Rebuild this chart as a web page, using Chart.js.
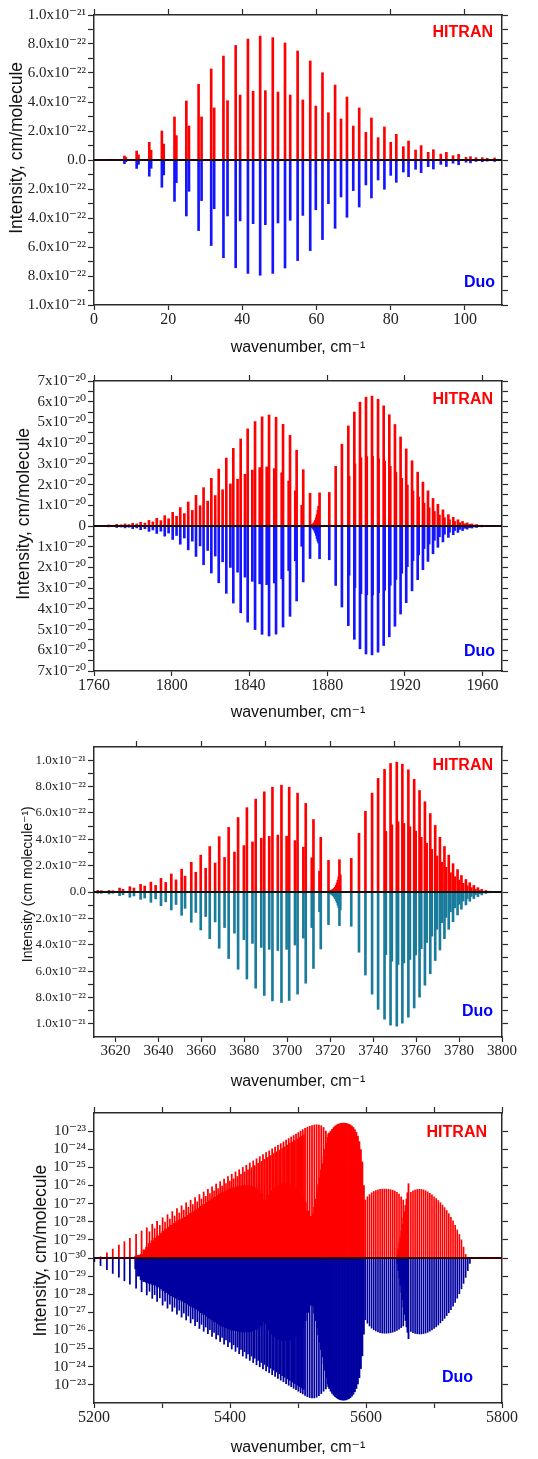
<!DOCTYPE html>
<html>
<head>
<meta charset="utf-8">
<script src="https://cdn.jsdelivr.net/npm/chart.js@4.4.1/dist/chart.umd.min.js"></script>
<style>
    html, body { margin: 0; padding: 0; background: #fff; width: 538px; height: 1459px; overflow: hidden; }
    .panel { position: absolute; left: 0; width: 538px; height: 366px; }
</style>
</head>
<body>
<div class="panel" style="top:0"><canvas id="chart1" width="538" height="366"></canvas></div>
<div class="panel" style="top:366px"><canvas id="chart2" width="538" height="366"></canvas></div>
<div class="panel" style="top:732px"><canvas id="chart3" width="538" height="366"></canvas></div>
<div class="panel" style="top:1098px"><canvas id="chart4" width="538" height="366"></canvas></div>
<script>
// ---------- Panel 1: 0-110 cm-1, intensities in units of 1e-22 cm/molecule ----------
const p1X = [4.7, 8.2, 8.6, 11.5, 12.0, 14.9, 15.4, 18.3, 18.8, 21.7, 22.2, 24.9, 25.6, 28.2, 29.0, 31.6, 32.4, 34.9, 36.0, 38.2, 39.4,
    41.5, 42.9, 44.8, 46.2, 48.2, 49.6, 51.5, 52.9, 54.9, 56.3, 58.3, 59.8, 61.6, 63.2, 65.0, 66.6, 68.2, 69.9, 71.5, 73.3,
    74.8, 76.6, 78.3, 80.0, 81.5, 83.4, 84.8, 86.7, 88.2, 90.1, 91.5, 93.5, 95.0, 96.8, 98.3, 100.3, 101.5, 103.0, 104.7, 106.0, 108.0];
const p1Hitran = [0.05, 0.28, 0.18, 0.62, 0.35, 1.22, 0.67, 2.0, 1.1, 2.97, 1.68, 4.07, 2.34, 5.22, 2.97, 6.28, 3.59, 7.17, 4.09, 7.9, 4.48,
    8.34, 4.74, 8.55, 4.78, 8.44, 4.69, 8.07, 4.48, 7.52, 4.14, 6.83, 3.72, 6.02, 3.26, 5.17, 2.83, 4.34, 2.34, 3.59, 1.91,
    2.9, 1.54, 2.28, 1.22, 1.77, 0.92, 1.31, 0.69, 0.99, 0.53, 0.71, 0.41, 0.53, 0.3, 0.39, 0.18, 0.23, 0.16, 0.16, 0.12, 0.14];
const p1Duo = [0.03, 0.25, 0.12, 0.58, 0.3, 1.12, 0.57, 1.88, 1.03, 2.85, 1.56, 3.86, 2.16, 4.87, 2.8, 5.9, 3.36, 6.74, 3.86, 7.43, 4.2,
    7.82, 4.39, 7.95, 4.46, 7.82, 4.34, 7.45, 4.16, 6.94, 3.82, 6.25, 3.43, 5.49, 3.01, 4.71, 2.55, 3.95, 2.11, 3.24, 1.72,
    2.62, 1.38, 2.02, 1.06, 1.54, 0.83, 1.15, 0.64, 0.87, 0.46, 0.62, 0.3, 0.45, 0.22, 0.33, 0.15, 0.2, 0.1, 0.12, 0.08, 0.1];
const p1XTicks = [0, 20, 40, 60, 80, 100];
const p1XLabels = ['0', '20', '40', '60', '80', '100'];
const p1YTicks = [-10, -9, -8, -7, -6, -5, -4, -3, -2, -1, 0, 1, 2, 3, 4, 5, 6, 7, 8, 9, 10];
const p1YLabels = ['1.0x10⁻²¹', '', '8.0x10⁻²²', '', '6.0x10⁻²²', '', '4.0x10⁻²²', '', '2.0x10⁻²²', '', '0.0',
    '', '2.0x10⁻²²', '', '4.0x10⁻²²', '', '6.0x10⁻²²', '', '8.0x10⁻²²', '', '1.0x10⁻²¹'];

// ---------- Panel 2: 1760-1970 cm-1, units of 1e-20 ----------
const p2X = [
    // P branch
    1767.5, 1771.7, 1774.0, 1776.0, 1778.0, 1779.9, 1782.0, 1784.0, 1786.2, 1788.3, 1790.3, 1792.3, 1794.4, 1796.4, 1798.4,
    1800.5, 1802.5, 1804.4, 1806.5, 1808.5, 1810.6, 1812.5, 1814.6, 1816.4, 1818.5, 1820.4, 1822.4, 1824.2, 1826.2, 1828.1,
    1830.2, 1831.7, 1833.9, 1835.5, 1837.7, 1839.1, 1841.5, 1842.9, 1845.3, 1846.5, 1848.9, 1850.1, 1852.8, 1853.7, 1856.6,
    1857.3, 1860.2, 1860.9, 1863.6, 1864.3, 1866.9, 1867.7, 1871.2,
    // Q branch
    1872.0, 1872.4, 1872.8, 1873.2, 1873.6, 1874.0, 1874.4, 1874.8, 1875.2, 1875.6, 1876.1,
    // R branch
    1881.1, 1884.4, 1887.6, 1890.9, 1891.3, 1894.0, 1894.3, 1896.9, 1897.4, 1900.0, 1900.4, 1903.1, 1903.4, 1906.2, 1906.5,
    1909.1, 1909.6, 1912.0, 1912.5, 1914.9, 1915.4, 1917.8, 1918.4, 1920.7, 1921.3, 1923.7, 1924.2, 1926.6, 1927.1, 1929.3,
    1929.9, 1931.9, 1932.5, 1934.5, 1935.2, 1937.0, 1937.8, 1939.6, 1940.4, 1942.4, 1943.0, 1944.9, 1945.6, 1947.3, 1948.2,
    1949.7, 1950.8, 1952.1, 1953.3, 1954.5, 1955.9, 1957.0, 1959.5, 1962.0];
const p2Hitran = [
    0.05, 0.08, 0.06, 0.10, 0.07, 0.13, 0.10, 0.18, 0.14, 0.27, 0.20, 0.37, 0.26, 0.50, 0.35,
    0.66, 0.47, 0.89, 0.60, 1.16, 0.75, 1.48, 0.98, 1.85, 1.20, 2.30, 1.47, 2.75, 1.75, 3.28,
    2.03, 3.75, 2.26, 4.20, 2.50, 4.69, 2.70, 5.04, 2.82, 5.27, 2.85, 5.36, 2.77, 5.25, 2.57,
    4.91, 2.17, 4.38, 1.70, 3.66, 1.00, 2.72, 1.58,
    0.05, 0.07, 0.10, 0.14, 0.20, 0.28, 0.40, 0.55, 0.75, 0.95, 1.60,
    1.62, 2.88, 3.95, 4.83, 2.40, 5.50, 3.00, 5.98, 3.30, 6.22, 3.35, 6.27, 3.36, 6.12, 3.25,
    5.80, 3.13, 5.37, 2.88, 4.90, 2.60, 4.30, 2.30, 3.72, 1.98, 3.15, 1.69, 2.60, 1.40, 2.12,
    1.10, 1.70, 0.88, 1.33, 0.70, 1.05, 0.53, 0.78, 0.40, 0.55, 0.30, 0.42, 0.22, 0.30, 0.16,
    0.22, 0.11, 0.15, 0.08, 0.10, 0.05, 0.07, 0.04, 0.02];
const p2Duo = [
    0.04, 0.07, 0.05, 0.09, 0.06, 0.13, 0.09, 0.18, 0.13, 0.26, 0.19, 0.36, 0.25, 0.49, 0.34,
    0.65, 0.46, 0.88, 0.58, 1.15, 0.73, 1.47, 0.96, 1.87, 1.18, 2.27, 1.45, 2.74, 1.73, 3.25,
    2.00, 3.72, 2.23, 4.19, 2.47, 4.64, 2.67, 5.00, 2.79, 5.23, 2.83, 5.31, 2.75, 5.22, 2.55,
    4.88, 2.15, 4.36, 1.68, 3.62, 0.98, 2.70, 1.57,
    0.05, 0.08, 0.12, 0.17, 0.24, 0.33, 0.45, 0.60, 0.72, 0.82, 1.58,
    1.63, 2.87, 3.91, 4.81, 2.38, 5.47, 2.97, 5.93, 3.27, 6.18, 3.32, 6.22, 3.33, 6.09, 3.22,
    5.77, 3.10, 5.35, 2.86, 4.84, 2.58, 4.25, 2.28, 3.70, 1.96, 3.13, 1.67, 2.59, 1.39, 2.11,
    1.09, 1.71, 0.87, 1.34, 0.69, 1.03, 0.52, 0.77, 0.40, 0.55, 0.30, 0.42, 0.22, 0.31, 0.16,
    0.22, 0.11, 0.15, 0.08, 0.10, 0.05, 0.07, 0.04, 0.02];
const p2XTicks = [1760, 1800, 1840, 1880, 1920, 1960];
const p2XLabels = ['1760', '1800', '1840', '1880', '1920', '1960'];
const p2YTicks = [-7, -6.5, -6, -5.5, -5, -4.5, -4, -3.5, -3, -2.5, -2, -1.5, -1, -0.5, 0,
    0.5, 1, 1.5, 2, 2.5, 3, 3.5, 4, 4.5, 5, 5.5, 6, 6.5, 7];
const p2YLabels = ['7x10⁻²⁰', '', '6x10⁻²⁰', '', '5x10⁻²⁰', '', '4x10⁻²⁰', '', '3x10⁻²⁰', '', '2x10⁻²⁰', '', '1x10⁻²⁰', '', '0',
    '', '1x10⁻²⁰', '', '2x10⁻²⁰', '', '3x10⁻²⁰', '', '4x10⁻²⁰', '', '5x10⁻²⁰', '', '6x10⁻²⁰', '', '7x10⁻²⁰'];

// ---------- Panel 3: 3610-3800 cm-1, units of 1e-22 ----------
const p3X = [
    3611.8, 3613.4, 3617.0, 3618.8, 3621.9, 3623.5, 3626.7, 3628.6, 3631.7, 3633.6, 3636.5, 3638.7, 3641.2, 3643.4,
    3646.0, 3648.2, 3650.8, 3652.4, 3655.3, 3657.4, 3659.7, 3662.0, 3663.9, 3666.4, 3668.3, 3670.8, 3672.7, 3675.4,
    3677.1, 3679.8, 3681.2, 3683.8, 3685.3, 3687.9, 3689.3, 3691.6, 3693.1, 3695.6, 3697.3, 3699.7, 3700.9, 3703.6,
    3704.8, 3707.5, 3708.6, 3711.4, 3712.2, 3715.0, 3715.6, 3719.2,
    3719.8, 3720.3, 3720.8, 3721.3, 3721.8, 3722.3, 3722.8, 3723.2, 3723.6, 3724.0, 3724.3, 3724.7,
    3729.8, 3733.4, 3736.4, 3739.5, 3742.3, 3745.3, 3745.9, 3748.1, 3748.7, 3751.0, 3751.6, 3753.6, 3754.3, 3756.4,
    3757.1, 3759.1, 3759.8, 3761.6, 3762.4, 3764.1, 3764.9, 3766.6, 3767.3, 3768.9, 3769.7, 3771.1, 3771.9, 3773.2,
    3773.9, 3775.2, 3776.0, 3777.2, 3778.0, 3779.3, 3779.9, 3781.1, 3781.9, 3783.2, 3783.8, 3785.0, 3785.7, 3786.9,
    3787.6, 3788.8, 3789.5, 3790.6, 3792.5, 3794.4];
const p3Hitran = [
    0.12, 0.10, 0.12, 0.10, 0.30, 0.20, 0.40, 0.30, 0.58, 0.45, 0.75, 0.50, 1.03, 0.73,
    1.37, 0.92, 1.73, 1.20, 2.25, 1.50, 2.80, 1.80, 3.45, 2.20, 4.20, 2.62, 4.90, 3.03,
    5.65, 3.52, 6.40, 3.80, 7.05, 4.08, 7.60, 4.22, 7.95, 4.32, 8.10, 4.23, 7.95, 3.90,
    7.50, 3.40, 6.72, 2.60, 5.50, 1.58, 4.15, 2.40,
    0.10, 0.12, 0.15, 0.20, 0.27, 0.36, 0.50, 0.68, 0.90, 1.15, 2.45, 1.30,
    2.55, 4.45, 6.12, 7.50, 8.62, 9.30, 4.60, 9.75, 5.10, 9.85, 5.33, 9.70, 5.20, 9.27,
    4.95, 8.55, 4.62, 7.70, 4.15, 6.85, 3.70, 5.95, 3.23, 5.05, 2.73, 4.15, 2.25, 3.45,
    1.87, 2.80, 1.46, 2.15, 1.16, 1.70, 0.90, 1.25, 0.66, 0.95, 0.48, 0.70, 0.33, 0.50,
    0.20, 0.33, 0.12, 0.20, 0.12, 0.06];
const p3Duo = [
    0.10, 0.10, 0.15, 0.10, 0.28, 0.20, 0.40, 0.30, 0.56, 0.46, 0.78, 0.52, 1.04, 0.75,
    1.36, 0.95, 1.77, 1.24, 2.30, 1.55, 2.88, 1.86, 3.54, 2.27, 4.27, 2.70, 5.05, 3.12,
    5.86, 3.62, 6.60, 3.90, 7.30, 4.20, 7.85, 4.35, 8.26, 4.44, 8.38, 4.35, 8.23, 4.02,
    7.75, 3.50, 6.92, 2.70, 5.80, 1.50, 4.32, 2.47,
    0.10, 0.15, 0.20, 0.28, 0.38, 0.50, 0.65, 0.80, 1.00, 1.20, 2.55, 1.35,
    2.60, 4.57, 6.30, 7.75, 8.90, 9.65, 4.75, 10.10, 5.25, 10.18, 5.50, 9.95, 5.38, 9.50,
    5.12, 8.80, 4.78, 7.98, 4.30, 7.07, 3.83, 6.20, 3.35, 5.20, 2.83, 4.40, 2.33, 3.54,
    1.93, 2.83, 1.50, 2.25, 1.20, 1.74, 0.93, 1.31, 0.68, 0.98, 0.50, 0.70, 0.34, 0.50,
    0.21, 0.35, 0.12, 0.22, 0.12, 0.06];
const p3XTicks = [3620, 3640, 3660, 3680, 3700, 3720, 3740, 3760, 3780, 3800];
const p3XLabels = ['3620', '3640', '3660', '3680', '3700', '3720', '3740', '3760', '3780', '3800'];
const p3TopTicks = [3630, 3660, 3690, 3720, 3750, 3780];
const p3YTicks = [-10, -9, -8, -7, -6, -5, -4, -3, -2, -1, 0, 1, 2, 3, 4, 5, 6, 7, 8, 9, 10];
const p3YLabels = ['1.0x10⁻²¹', '', '8.0x10⁻²²', '', '6.0x10⁻²²', '', '4.0x10⁻²²', '', '2.0x10⁻²²', '', '0.0',
    '', '2.0x10⁻²²', '', '4.0x10⁻²²', '', '6.0x10⁻²²', '', '8.0x10⁻²²', '', '1.0x10⁻²¹'];

// ---------- Panel 4: 5200-5800 cm-1, log10 of intensity (cm/molecule) ----------
// strong branch
const p4AX = [5200.5, 5209.6, 5219.0, 5227.6, 5236.6, 5244.7, 5252.8, 5261.9, 5270.0, 5277.6, 5285.7, 5292.8, 5300.9, 5308.1,
    5315.1, 5322.0, 5328.8, 5335.5, 5342.1, 5348.6, 5355.0, 5361.3, 5367.5, 5373.6, 5379.6, 5385.5, 5391.3, 5397.0,
    5402.6, 5408.1, 5413.5, 5418.8, 5424.0, 5429.1, 5434.1, 5439.0, 5443.8, 5448.5, 5453.1, 5457.6, 5462.0, 5466.3,
    5470.5, 5474.6, 5478.6, 5482.5, 5486.3, 5490.0, 5493.6, 5497.1, 5500.5, 5503.8, 5507.0, 5510.4, 5513.8, 5517.2,
    5520.6, 5524.0, 5527.4, 5530.8, 5534.2, 5537.6, 5541.0, 5544.4];
const p4HitranA = [-31, -29.93, -29.71, -29.51, -29.29, -29.10, -28.91, -28.70, -28.51, -28.33, -28.14, -27.97, -27.78, -27.61,
    -27.44, -27.28, -27.12, -26.96, -26.81, -26.66, -26.50, -26.36, -26.21, -26.07, -25.92, -25.79, -25.65, -25.51,
    -25.38, -25.25, -25.13, -25.00, -24.88, -24.76, -24.64, -24.53, -24.41, -24.30, -24.19, -24.09, -23.98, -23.88,
    -23.78, -23.69, -23.59, -23.50, -23.41, -23.32, -23.24, -23.16, -23.08, -23.00, -22.92, -22.84, -22.78, -22.73,
    -22.69, -22.66, -22.65, -22.66, -22.70, -22.80, -23.00, -23.15];
const p4DuoA = [-29.80, -29.58, -29.36, -29.15, -28.94, -28.74, -28.55, -28.33, -28.14, -27.96, -27.77, -27.60, -27.40, -27.23,
    -27.06, -26.90, -26.74, -26.58, -26.42, -26.27, -26.11, -25.96, -25.82, -25.67, -25.53, -25.39, -25.25, -25.11,
    -24.98, -24.85, -24.72, -24.59, -24.47, -24.35, -24.23, -24.11, -24.00, -23.88, -23.77, -23.67, -23.56, -23.46,
    -23.36, -23.26, -23.17, -23.07, -22.98, -22.90, -22.81, -22.73, -22.65, -22.57, -22.50, -22.42, -22.35, -22.30,
    -22.28, -22.28, -22.32, -22.40, -22.52, -22.65, -22.78, -22.90];
// companion lines between the strong ones
const p4SX = [5281.6, 5289.2, 5296.8, 5304.5, 5311.6, 5318.5, 5325.4, 5332.1, 5338.8, 5345.3, 5351.8, 5358.1, 5364.4, 5370.5,
    5376.6, 5382.5, 5388.4, 5394.1, 5399.8, 5405.3, 5410.8, 5416.1, 5421.4, 5426.5, 5431.6, 5436.5, 5441.4, 5446.1,
    5450.8, 5455.3, 5459.8, 5464.1, 5468.4, 5472.5, 5476.6, 5480.5, 5484.4, 5488.1, 5491.8, 5495.3, 5498.8, 5502.1,
    5505.4, 5508.7];
const p4HitranS = [-28.55, -28.38, -28.20, -28.02, -27.85, -27.68, -27.52, -27.36, -27.20, -27.05, -26.90, -26.75, -26.60, -26.45,
    -26.30, -26.17, -26.03, -25.90, -25.76, -25.63, -25.50, -25.38, -25.25, -25.13, -25.01, -24.90, -24.78, -24.67,
    -24.56, -24.45, -24.35, -24.24, -24.14, -24.05, -23.95, -23.86, -23.77, -23.68, -23.60, -23.52, -23.44, -23.36,
    -23.28, -23.20];
const p4DuoS = [-28.16, -27.98, -27.80, -27.62, -27.45, -27.28, -27.12, -26.96, -26.80, -26.64, -26.49, -26.34, -26.19, -26.04,
    -25.90, -25.76, -25.62, -25.48, -25.35, -25.21, -25.08, -24.96, -24.83, -24.71, -24.59, -24.47, -24.35, -24.24,
    -24.13, -24.02, -23.92, -23.81, -23.71, -23.61, -23.51, -23.42, -23.33, -23.24, -23.15, -23.07, -22.98, -22.91,
    -22.83, -22.75];
// weak dense branch (two humps)
const p4BX = [5262, 5266, 5270, 5274, 5278, 5282, 5286, 5290, 5294, 5298, 5302, 5306, 5310, 5314, 5318, 5322, 5326, 5330,
    5334, 5338, 5342, 5346, 5350, 5354, 5358, 5362, 5366, 5370, 5374, 5378, 5382, 5386, 5390, 5394, 5398, 5402, 5406,
    5410, 5414, 5418, 5422, 5426, 5430, 5434, 5438, 5442, 5446, 5450, 5454, 5458, 5462, 5466, 5470, 5474, 5478, 5482,
    5486, 5490, 5494, 5498, 5502, 5506, 5510, 5514, 5518];
const p4HitranB = [-29.90, -29.85, -29.80, -29.55, -29.40, -29.20, -29.05, -28.90, -28.78, -28.65, -28.52, -28.40, -28.30,
    -28.20, -28.10, -28.00, -27.90, -27.82, -27.75, -27.65, -27.55, -27.45, -27.35, -27.25, -27.15, -27.05, -26.95,
    -26.85, -26.75, -26.65, -26.55, -26.45, -26.37, -26.30, -26.23, -26.17, -26.12, -26.08, -26.05, -26.02, -26.00,
    -26.00, -26.02, -26.06, -26.13, -26.25, -26.45, -26.80, -26.90, -26.55, -26.30, -26.14, -26.03, -25.95, -25.91,
    -25.90, -25.91, -25.95, -26.02, -26.14, -26.32, -26.58, -26.95, -27.40, -27.70];
const p4DuoB = [-29.40, -29.00, -28.80, -28.70, -28.65, -28.60, -28.55, -28.50, -28.40, -28.30, -28.20, -28.10, -28.00,
    -27.92, -27.85, -27.78, -27.70, -27.62, -27.54, -27.45, -27.36, -27.27, -27.18, -27.08, -26.98, -26.88, -26.78,
    -26.68, -26.58, -26.48, -26.38, -26.30, -26.22, -26.15, -26.10, -26.05, -26.01, -25.98, -25.95, -25.93, -25.92,
    -25.92, -25.94, -25.98, -26.05, -26.15, -26.30, -26.50, -26.40, -26.05, -25.80, -25.65, -25.55, -25.48, -25.45,
    -25.44, -25.46, -25.50, -25.58, -25.70, -25.88, -26.15, -26.55, -27.00, -27.40];
// band head rising into the second strong group
const p4RampX = [5512, 5514, 5516, 5518, 5520, 5522, 5524, 5526, 5528, 5530, 5532, 5534, 5536, 5538, 5540, 5542, 5544];
const p4HitranRamp = [-29.60, -29.15, -28.80, -28.35, -28.00, -27.55, -27.20, -26.75, -26.40, -25.95, -25.60, -25.15, -24.80,
    -24.40, -24.00, -23.65, -23.35];
const p4DuoRamp = [-29.40, -29.00, -28.55, -28.15, -27.75, -27.35, -26.95, -26.55, -26.15, -25.75, -25.35, -24.95, -24.55,
    -24.15, -23.80, -23.40, -23.05];
const p4G2X = [5546.0, 5548.2, 5550.4, 5552.6, 5554.8, 5557.0, 5559.2, 5561.4, 5563.6, 5565.8, 5568.0, 5570.2, 5572.4, 5574.6,
    5576.8, 5579.0, 5581.2, 5583.4, 5585.6, 5587.8, 5590.0, 5592.2, 5594.4, 5596.6];
const p4HitranG2 = [-23.10, -23.00, -22.90, -22.80, -22.72, -22.66, -22.62, -22.59, -22.57, -22.56, -22.56, -22.57, -22.59,
    -22.62, -22.66, -22.72, -22.80, -22.92, -23.07, -23.28, -23.58, -24.02, -24.70, -26.00];
const p4DuoG2 = [-22.80, -22.65, -22.53, -22.43, -22.35, -22.28, -22.23, -22.19, -22.17, -22.16, -22.16, -22.17, -22.20,
    -22.24, -22.30, -22.38, -22.48, -22.62, -22.80, -23.05, -23.40, -23.90, -24.60, -25.80];
// weak bands above 5600
const p4CX = [5599.0, 5602.1, 5605.2, 5608.3, 5611.4, 5614.5, 5617.6, 5620.7, 5623.8, 5626.9, 5630.0, 5633.1, 5636.2, 5639.3,
    5642.4, 5645.5, 5648.6, 5651.7, 5654.8];
const p4HitranC = [-26.80, -26.62, -26.50, -26.40, -26.33, -26.28, -26.24, -26.21, -26.20, -26.20, -26.20, -26.21, -26.23,
    -26.26, -26.31, -26.38, -26.48, -26.62, -26.80];
const p4DuoC = [-26.60, -26.40, -26.25, -26.13, -26.04, -25.97, -25.92, -25.88, -25.86, -25.85, -25.85, -25.86, -25.88,
    -25.91, -25.95, -26.00, -26.07, -26.15, -26.25];
const p4SpikeX = [5646.0, 5647.5, 5649.0, 5650.5, 5652.0, 5653.5, 5655.0, 5656.5, 5658.0, 5659.5, 5661.0, 5662.5];
const p4HitranSpike = [-29.80, -29.50, -29.20, -28.85, -28.50, -28.15, -27.80, -27.45, -27.10, -26.75, -26.40, -25.90];
const p4DuoSpike = [-29.70, -29.30, -28.90, -28.50, -28.10, -27.70, -27.30, -26.90, -26.55, -26.20, -25.90, -25.55];
const p4DX = [5666.0, 5669.1, 5672.2, 5675.3, 5678.4, 5681.5, 5684.6, 5687.7, 5690.8, 5693.9, 5697.0, 5700.1, 5703.2, 5706.3,
    5709.4, 5712.5, 5715.6, 5718.7, 5721.8, 5724.9, 5728.0, 5731.1, 5734.2, 5737.3, 5740.4, 5743.5, 5746.6, 5749.7, 5752.8];
const p4HitranD = [-26.38, -26.30, -26.25, -26.22, -26.21, -26.21, -26.24, -26.29, -26.35, -26.43, -26.52, -26.62, -26.72,
    -26.83, -26.95, -27.08, -27.22, -27.38, -27.55, -27.75, -27.95, -28.20, -28.45, -28.70, -29.00, -29.40, -29.80, -31, -31];
const p4DuoD = [-25.95, -25.88, -25.84, -25.82, -25.81, -25.81, -25.83, -25.86, -25.90, -25.96, -26.03, -26.11, -26.20,
    -26.30, -26.42, -26.54, -26.67, -26.82, -26.98, -27.15, -27.34, -27.55, -27.78, -28.03, -28.30, -28.60, -28.93, -29.30, -29.70];
const p4Floor = -30;
const p4XTicks = [5200, 5300, 5400, 5500, 5600, 5700, 5800];
const p4XLabels = ['5200', '', '5400', '', '5600', '', '5800'];
const p4YTicks = [-7, -6, -5, -4, -3, -2, -1, 0, 1, 2, 3, 4, 5, 6, 7];
const p4YLabels = ['10⁻²³', '10⁻²⁴', '10⁻²⁵', '10⁻²⁶', '10⁻²⁷', '10⁻²⁸', '10⁻²⁹', '10⁻³⁰',
    '10⁻²⁹', '10⁻²⁸', '10⁻²⁷', '10⁻²⁶', '10⁻²⁵', '10⁻²⁴', '10⁻²³'];

const SERIF = "'Liberation Serif', 'DejaVu Serif', serif";
const SANS = "'Liberation Sans', 'DejaVu Sans', Arial, sans-serif";
const RED = '#ff0000';
const AXIS = '#2a2a2a';

function sticks(xs, ys, sign) {
    const n = Math.min(xs.length, ys.length);
    const out = [];
    for (let i = 0; i < n; i++) out.push({x: xs[i], y: sign * ys[i]});
    return out;
}

function logSticks(xs, logs, sign) {
    const n = Math.min(xs.length, logs.length);
    const out = [];
    for (let i = 0; i < n; i++) out.push({x: xs[i], y: sign * Math.max(0, logs[i] - p4Floor)});
    return out;
}

// HITRAN / Duo tags inside the frame
const cornerLabels = {
    id: 'cornerLabels',
    afterDatasetsDraw(chart, args, opts) {
        const ctx = chart.ctx;
        const area = chart.chartArea;
        (opts.items || []).forEach(function(it) {
            ctx.save();
            ctx.font = 'bold 16px ' + SANS;
            ctx.fillStyle = it.color;
            ctx.textAlign = 'right';
            ctx.textBaseline = 'middle';
            const y = it.top !== undefined ? area.top + it.top : area.bottom - it.bottom;
            ctx.fillText(it.text, area.right - it.right, y);
            ctx.restore();
        });
    }
};

function setTicks(values) {
    return function(scale) { scale.ticks = values.map(function(v) { return {value: v}; }); };
}

function makeChart(id, cfg) {
    const datasets = cfg.series.map(function(s) {
        return {
            type: 'bar',
            data: s.data,
            backgroundColor: s.color,
            borderWidth: 0,
            barThickness: s.w,
            grouped: false,
            xAxisID: 'x',
            yAxisID: 'y',
            order: 1
        };
    });
    // baseline drawn over the sticks
    datasets.push({
        type: 'line',
        data: [{x: cfg.xMin, y: 0}, {x: cfg.xMax, y: 0}],
        borderColor: cfg.zeroColor,
        borderWidth: 2,
        pointRadius: 0,
        xAxisID: 'x',
        yAxisID: 'y',
        order: 0
    });

    const grid = {drawOnChartArea: false, tickLength: 6, color: AXIS, tickColor: AXIS, tickWidth: 1.2, offset: false};
    const border = {color: AXIS, width: 1.5};

    return new Chart(document.getElementById(id), {
        type: 'bar',
        data: {datasets: datasets},
        options: {
            responsive: false,
            animation: false,
            layout: {padding: 0},
            plugins: {
                legend: {display: false},
                tooltip: {enabled: false},
                cornerLabels: {items: cfg.tags}
            },
            scales: {
                x: {
                    type: 'linear', position: 'bottom', min: cfg.xMin, max: cfg.xMax, offset: false,
                    afterBuildTicks: setTicks(cfg.xTicks),
                    afterFit: function(s) { s.height = 61; },
                    ticks: {
                        autoSkip: false, maxRotation: 0, padding: 0, color: '#222',
                        font: {family: SERIF, size: cfg.xTickSize || 16},
                        callback: function(v, i) { return cfg.xLabels[i]; }
                    },
                    grid: Object.assign({}, grid, {tickLength: 5}),
                    border: border,
                    title: {
                        display: true, text: 'wavenumber, cm⁻¹', color: '#111',
                        font: {family: SANS, size: 16}, padding: {top: 0, bottom: cfg.xTitlePad}
                    }
                },
                xTop: {
                    type: 'linear', position: 'top', min: cfg.xMin, max: cfg.xMax, offset: false,
                    afterBuildTicks: setTicks(cfg.topTicks || cfg.xTicks),
                    afterFit: function(s) { s.height = 15; },
                    ticks: {display: false},
                    grid: grid,
                    border: border
                },
                y: {
                    type: 'linear', position: 'left', min: cfg.yMin, max: cfg.yMax,
                    afterBuildTicks: setTicks(cfg.yTicks),
                    afterFit: function(s) { s.width = 94; },
                    ticks: {
                        autoSkip: false, padding: 2, color: '#222',
                        font: {family: SERIF, size: cfg.yTickSize || 15},
                        callback: function(v, i) { return cfg.yLabels[i]; }
                    },
                    grid: grid,
                    border: border,
                    title: {
                        display: true, text: cfg.yTitle, color: '#111',
                        font: {family: SANS, size: cfg.yTitleSize}, padding: {top: cfg.yTitlePad, bottom: 0}
                    }
                },
                yRight: {
                    type: 'linear', position: 'right', min: cfg.yMin, max: cfg.yMax,
                    afterBuildTicks: setTicks(cfg.yTicks),
                    afterFit: function(s) { s.width = 36; },
                    ticks: {display: false},
                    grid: grid,
                    border: border
                }
            }
        },
        plugins: [cornerLabels]
    });
}

// Panel 1
makeChart('chart1', {
    xMin: 0, xMax: 110, yMin: -10, yMax: 10,
    xTicks: p1XTicks, xLabels: p1XLabels, yTicks: p1YTicks, yLabels: p1YLabels,
    yTitle: '     Intensity, cm/molecule', yTitleSize: 17.5, yTitlePad: 6.5, xTitlePad: 8.4,
    zeroColor: '#1a0808',
    series: [
        {data: sticks(p1X, p1Hitran, 1), color: RED, w: 2},
        {data: sticks(p1X, p1Duo, -1), color: '#1414ff', w: 2}
    ],
    tags: [
        {text: 'HITRAN', color: RED, right: 9, top: 18},
        {text: 'Duo', color: '#0000ff', right: 7, bottom: 22}
    ]
});

// Panel 2
makeChart('chart2', {
    xMin: 1760, xMax: 1970, yMin: -7, yMax: 7,
    xTicks: p2XTicks, xLabels: p2XLabels, yTicks: p2YTicks, yLabels: p2YLabels,
    yTitle: '     Intensity, cm/molecule', yTitleSize: 17.5, yTitlePad: 14, xTitlePad: 9.4,
    zeroColor: '#1a0808',
    series: [
        {data: sticks(p2X, p2Hitran, 1), color: RED, w: 2},
        {data: sticks(p2X, p2Duo, -1), color: '#1414ff', w: 2}
    ],
    tags: [
        {text: 'HITRAN', color: RED, right: 9, top: 18.6},
        {text: 'Duo', color: '#0000ff', right: 7, bottom: 19.3}
    ]
});

// Panel 3
makeChart('chart3', {
    xMin: 3610, xMax: 3800, yMin: -11, yMax: 11,
    xTicks: p3XTicks, xLabels: p3XLabels, topTicks: p3TopTicks, yTicks: p3YTicks, yLabels: p3YLabels,
    yTickSize: 13, xTickSize: 15,
    yTitle: '    Intensity (cm molecule⁻¹)', yTitleSize: 14, yTitlePad: 19.9, xTitlePad: 6.7,
    zeroColor: '#111111',
    series: [
        {data: sticks(p3X, p3Hitran, 1), color: RED, w: 2},
        {data: sticks(p3X, p3Duo, -1), color: '#1a7c9c', w: 2}
    ],
    tags: [
        {text: 'HITRAN', color: RED, right: 9, top: 18.3},
        {text: 'Duo', color: '#0000ff', right: 9, bottom: 25}
    ]
});

// Panel 4 (mirrored log scale, 1e-30 at the centre line)
const NAVY = '#0000a0';
makeChart('chart4', {
    xMin: 5200, xMax: 5800, yMin: -8, yMax: 8,
    xTicks: p4XTicks, xLabels: p4XLabels, yTicks: p4YTicks, yLabels: p4YLabels,
    yTitle: '   Intensity, cm/molecule', yTitleSize: 17.5, yTitlePad: 30.8, xTitlePad: 6.4,
    zeroColor: '#3a0000',
    series: [
        {data: logSticks(p4BX, p4HitranB, 1), color: RED, w: 3},
        {data: logSticks(p4RampX, p4HitranRamp, 1), color: RED, w: 1.6},
        {data: logSticks(p4AX, p4HitranA, 1), color: RED, w: 1.1},
        {data: logSticks(p4SX, p4HitranS, 1), color: RED, w: 1},
        {data: logSticks(p4G2X, p4HitranG2, 1), color: RED, w: 1.6},
        {data: logSticks(p4CX, p4HitranC, 1), color: RED, w: 1},
        {data: logSticks(p4SpikeX, p4HitranSpike, 1), color: RED, w: 1.2},
        {data: logSticks(p4DX, p4HitranD, 1), color: RED, w: 1},
        {data: logSticks(p4BX, p4DuoB, -1), color: NAVY, w: 3},
        {data: logSticks(p4RampX, p4DuoRamp, -1), color: NAVY, w: 1.6},
        {data: logSticks(p4AX, p4DuoA, -1), color: NAVY, w: 1.1},
        {data: logSticks(p4SX, p4DuoS, -1), color: NAVY, w: 1},
        {data: logSticks(p4G2X, p4DuoG2, -1), color: NAVY, w: 1.6},
        {data: logSticks(p4CX, p4DuoC, -1), color: NAVY, w: 1},
        {data: logSticks(p4SpikeX, p4DuoSpike, -1), color: NAVY, w: 1.2},
        {data: logSticks(p4DX, p4DuoD, -1), color: NAVY, w: 1}
    ],
    tags: [
        {text: 'HITRAN', color: RED, right: 15, top: 19.6},
        {text: 'Duo', color: '#0000ff', right: 29, bottom: 25.7}
    ]
});
</script>
</body>
</html>
